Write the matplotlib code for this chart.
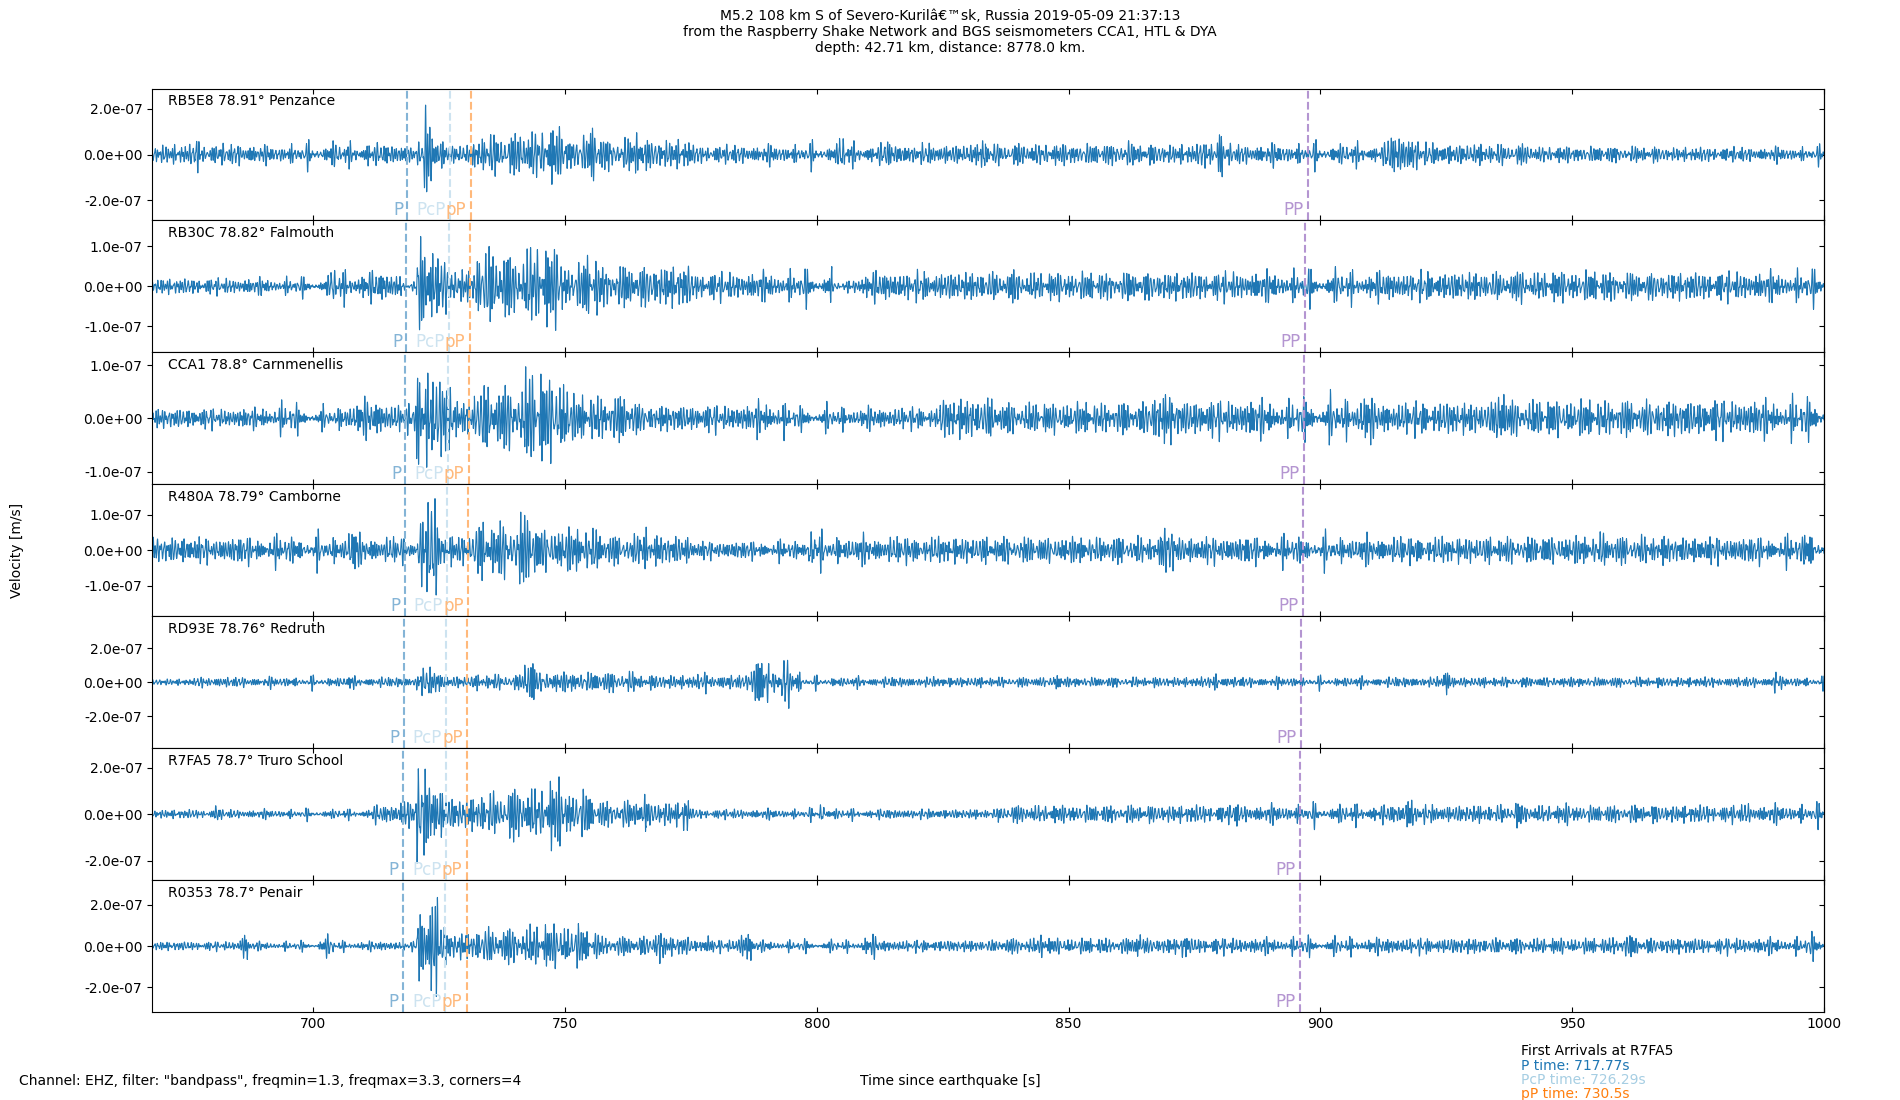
import numpy as np
import matplotlib.pyplot as plt
from matplotlib.ticker import FormatStrFormatter, MultipleLocator

# stations, top to bottom
STATIONS = ["RB5E8", "RB30C", "CCA1", "R480A", "RD93E", "R7FA5", "R0353"]
DISTANCES = [78.91, 78.82, 78.8, 78.79, 78.76, 78.7, 78.7]
PLACES = ["Penzance", "Falmouth", "Carnmenellis", "Camborne", "Redruth", "Truro School", "Penair"]

# phase arrival times per station [s]
P_TIMES = [718.7, 718.5, 718.3, 718.2, 718.0, 717.77, 717.75]
PCP_TIMES = [727.1, 726.9, 726.7, 726.6, 726.4, 726.29, 726.27]
DEPTH_P_TIMES = [731.3, 731.1, 730.9, 730.8, 730.6, 730.5, 730.48]
PP_TIMES = [897.5, 897.0, 896.7, 896.6, 896.2, 896.0, 895.9]

# y axis half ranges and tick spacing [m/s]
Y_LIMITS = [2.87e-7, 1.65e-7, 1.24e-7, 1.85e-7, 3.9e-7, 2.83e-7, 3.2e-7]
Y_STEPS = [2e-7, 1e-7, 1e-7, 1e-7, 2e-7, 2e-7, 2e-7]

# peak amplitude, in 1e-7 m/s:
# a background level and (start, end, amplitude) windows
BACKGROUND = [0.45, 0.38, 0.36, 0.38, 0.3, 0.4, 0.4]

BURSTS_RB5E8 = [
    (676.5, 677.5, 0.8), (684.5, 685.5, 0.5), (690, 693.5, 0.5), (703.5, 705, 0.6),
    (710.5, 712, 0.5), (719.2, 721.8, 0.55), (721.8, 723.8, 2.15), (723.8, 726.5, 0.6),
    (732, 741, 0.95), (741, 747, 1.0), (747, 749, 1.3), (749, 755, 0.85),
    (755, 756.5, 1.15), (756.5, 764, 0.75), (764, 765.5, 0.95), (765.5, 775, 0.7),
    (775, 797, 0.55), (804.5, 805.5, 0.7), (813.5, 814.5, 0.55), (832.5, 833.5, 0.6),
    (834, 866, 0.5), (859.5, 862.5, 0.6), (876, 879.5, 0.6), (879.5, 880.5, 0.97),
    (913, 919.5, 0.75), (919.5, 942, 0.55), (942, 967, 0.38), (967, 1000, 0.55),
]
BURSTS_RB30C = [
    (668, 703.5, 0.32), (703.5, 705, 0.4), (717.5, 720.5, 0.12), (720.5, 723.8, 1.25),
    (723.8, 726.4, 0.7), (726.4, 732.3, 0.42), (732.3, 738.7, 1.0), (738.7, 741.5, 0.72),
    (741.5, 749.5, 1.1), (749.5, 753.5, 0.6), (753.5, 756.5, 0.78), (756.5, 775, 0.55),
    (775, 797, 0.45), (803, 807, 0.17), (838.5, 839.5, 0.42), (939.5, 940.5, 0.45),
    (945, 959, 0.42),
]
BURSTS_CCA1 = [
    (668, 690, 0.24), (690, 697, 0.35), (697, 705.5, 0.28), (705.5, 715, 0.42),
    (715, 720.5, 0.32), (720.5, 723, 0.92), (723, 728, 0.72), (728, 732, 0.35),
    (732, 742, 0.62), (742, 745.5, 0.97), (745.5, 751, 0.85), (751, 764.5, 0.47),
    (764.5, 788, 0.32), (788, 793.5, 0.42), (793.5, 800, 0.28), (800, 824.5, 0.32),
    (824.5, 836, 0.4), (836, 866, 0.32), (866, 870.5, 0.5), (893, 894, 0.38),
    (907.5, 910, 0.5), (910, 935, 0.38), (935, 936.5, 0.45), (978, 979, 0.42),
]
BURSTS_R480A = [
    (677.5, 682, 0.42), (707, 708.5, 0.52), (718.5, 720.7, 0.15), (720.7, 725, 1.45),
    (725, 732, 0.47), (732, 741, 0.85), (741, 744, 1.07), (744, 757, 0.66),
    (757, 775, 0.47), (764.8, 766.2, 0.65), (775, 798, 0.38), (798.3, 799.8, 0.52),
    (868.3, 871, 0.62), (944, 969, 0.45), (955.5, 956.8, 0.52), (996, 998, 0.42),
]
BURSTS_RD93E = [
    (668, 677, 0.22), (677, 680, 0.35), (706.5, 707.5, 0.36), (720.5, 726, 0.9),
    (726, 732, 0.35), (732, 742, 0.52), (742, 744, 1.1), (744, 764.5, 0.65),
    (764.5, 787, 0.48), (777.5, 778.5, 0.7), (787, 790.5, 1.2), (790.5, 793, 0.6),
    (793, 794.6, 1.55), (794.6, 797, 0.6), (847, 848, 0.4), (878.5, 879.5, 0.5),
    (924.5, 925.8, 0.75), (989.5, 990.5, 0.65),
]
BURSTS_R7FA5 = [
    (668, 711, 0.33), (680.5, 681.5, 0.36), (711, 717.3, 0.47), (717.3, 720.5, 0.62),
    (720.5, 724.3, 2.1), (724.3, 726.4, 1.0), (726.4, 732.3, 0.75), (732.3, 738.7, 1.0),
    (738.7, 747, 1.2), (747, 749, 1.6), (749, 755, 1.1), (755, 764.5, 0.6),
    (764.5, 766, 0.85), (766, 775, 0.58), (773.5, 774.5, 0.7), (775, 836, 0.36),
    (800.5, 801.5, 0.4), (882.5, 883.5, 0.52), (917, 918.5, 0.6), (938.5, 939.5, 0.6),
    (948.5, 949.5, 0.5), (984, 985, 0.45),
]
BURSTS_R0353 = [
    (668, 685.5, 0.28), (685.5, 687, 0.65), (687, 701, 0.3), (701, 704, 0.6),
    (704, 720.5, 0.32), (720.5, 722.3, 1.7), (722.3, 724.8, 2.45), (724.8, 726.4, 0.92),
    (726.4, 732.3, 0.68), (732.3, 743, 0.95), (743, 753.7, 1.1), (753.7, 757, 0.7),
    (757, 775, 0.5), (768, 769.5, 0.85), (775, 784.5, 0.38), (777.5, 778.5, 0.5),
    (784.5, 787, 0.7), (787, 809, 0.38), (809, 812, 0.65), (812, 836, 0.36),
    (844.5, 845.5, 0.56), (863.3, 864.3, 0.55), (872.5, 873.5, 0.55), (958, 963, 0.52),
    (996, 1000, 0.75),
]
BURSTS = [BURSTS_RB5E8, BURSTS_RB30C, BURSTS_CCA1, BURSTS_R480A,
          BURSTS_RD93E, BURSTS_R7FA5, BURSTS_R0353]

PHASES = ["P", "PcP", "pP", "PP"]
PHASE_TIMES = [P_TIMES, PCP_TIMES, DEPTH_P_TIMES, PP_TIMES]
PHASE_COLORS = ["#84b4d6", "#cde3f0", "#ffb97b", "#b495d1"]

# passband frequencies used for the wiggle texture [Hz]
BAND = [1.34, 1.47, 1.69, 1.83, 2.07, 2.29, 2.41, 2.66, 2.93]

T_START, T_END = 668.0, 1000.0

fig, axes = plt.subplots(7, 1, figsize=(19, 11), dpi=100, sharex=True)
fig.subplots_adjust(left=0.080, right=0.960, bottom=0.080, top=0.9195, hspace=0)

t = np.arange(T_START, T_END, 0.02)

for i, ax in enumerate(axes):
    wiggle = sum(np.sin(2 * np.pi * f * t + (i + 1) * (n + 1) * 1.3) for n, f in enumerate(BAND))
    wiggle /= np.percentile(np.abs(wiggle), 98.5)

    env = np.full(t.shape, BACKGROUND[i])
    window = np.full(t.shape, -1)
    for j, (start, end, amp) in enumerate(BURSTS[i]):
        mask = (t >= start) & (t < end)
        env[mask] = amp
        window[mask] = j
    # every read window reaches its read peak
    for j in np.unique(window[window >= 0]):
        mask = window == j
        wiggle[mask] /= np.abs(wiggle[mask]).max()

    ax.plot(t, env * 1e-7 * wiggle, color="#1f77b4", lw=0.8)

    for name, times, color in zip(PHASES, PHASE_TIMES, PHASE_COLORS):
        ax.axvline(times[i], ls="--", color=color, lw=1.5)
        ax.annotate(name, xy=(times[i], 0), xycoords=("data", "axes fraction"),
                    xytext=(-3, 1), textcoords="offset points",
                    ha="right", va="bottom", color=color, fontsize=12)

    ax.text(0.0095, 0.955, "{} {}° {}".format(STATIONS[i], DISTANCES[i], PLACES[i]),
            transform=ax.transAxes, ha="left", va="top", fontsize=10)

    ax.set_xlim(T_START, T_END)
    ax.set_ylim(-Y_LIMITS[i], Y_LIMITS[i])
    ax.yaxis.set_major_locator(MultipleLocator(Y_STEPS[i]))
    ax.yaxis.set_major_formatter(FormatStrFormatter("%.1e"))
    ax.xaxis.set_major_locator(MultipleLocator(50))
    ax.tick_params(axis="x", direction="in", top=True, labelsize=10)
    ax.tick_params(axis="y", labelsize=10)
    right = ax.secondary_yaxis("right")
    right.yaxis.set_major_locator(MultipleLocator(Y_STEPS[i]))
    right.tick_params(direction="in", labelright=False)

fig.text(0.5, 0.992, "M5.2 108 km S of Severo-Kurilâ€™sk, Russia 2019-05-09 21:37:13\n"
         "from the Raspberry Shake Network and BGS seismometers CCA1, HTL & DYA\n"
         "depth: 42.71 km, distance: 8778.0 km.", ha="center", va="top", fontsize=10)
fig.text(0.009, 0.5, "Velocity [m/s]", rotation=90, ha="center", va="center", fontsize=10)
fig.text(0.0102, 0.0173, 'Channel: EHZ, filter: "bandpass", freqmin=1.3, freqmax=3.3, corners=4',
         ha="left", va="center", fontsize=10)
fig.text(0.5, 0.0173, "Time since earthquake [s]", ha="center", va="center", fontsize=10)

fig.text(0.8005, 0.0445, "First Arrivals at R7FA5", ha="left", va="center", fontsize=10)
fig.text(0.8005, 0.0305, "P time: 717.77s", ha="left", va="center", fontsize=10, color="#1f77b4")
fig.text(0.8005, 0.0180, "PcP time: 726.29s", ha="left", va="center", fontsize=10, color="#a6cee3")
fig.text(0.8005, 0.0055, "pP time: 730.5s", ha="left", va="center", fontsize=10, color="#ff7f0e")

fig.savefig("out.png", dpi=100)
